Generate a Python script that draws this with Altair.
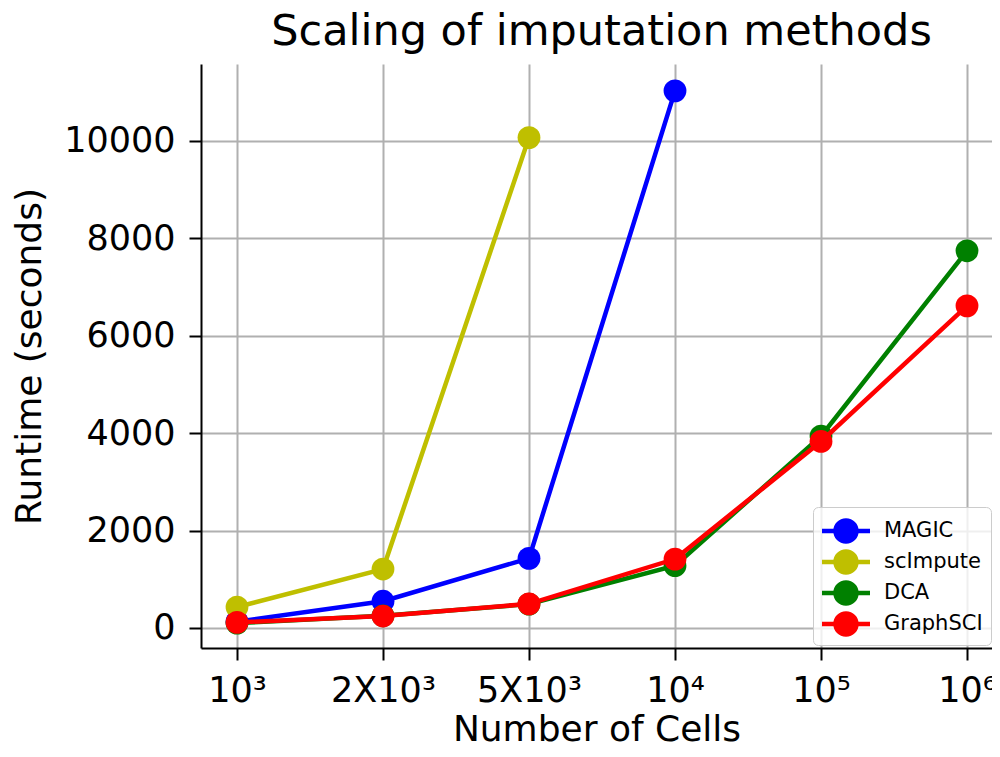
import json
import altair as alt
import pandas as pd

categories = ["10³", "2X10³", "5X10³", "10⁴", "10⁵", "10⁶"]
series_names = ["MAGIC", "scImpute", "DCA", "GraphSCI"]
series_colors = ["#0000ff", "#bfbf00", "#008000", "#ff0000"]
magic = [130, 550, 1430, 11030]
scimpute = [430, 1210, 10070]
dca = [100, 250, 490, 1280, 3940, 7745]
graphsci = [115, 245, 495, 1415, 3830, 6615]
y_ticks = [0, 2000, 4000, 6000, 8000, 10000]

rows = []
for name, vals in zip(series_names, [magic, scimpute, dca, graphsci]):
    for i, (c, v) in enumerate(zip(categories, vals)):
        rows.append({"pos": i, "cells": c, "runtime": v, "method": name})
df = pd.DataFrame(rows)

FONT = "DejaVu Sans"

label_expr = json.dumps(categories, ensure_ascii=False) + "[datum.value]"

x_enc = alt.X(
    "pos:Q",
    scale=alt.Scale(domain=[-0.2466, 5.1712], nice=False, zero=False),
    axis=alt.Axis(title="Number of Cells", labelAngle=0,
                  values=list(range(len(categories))), labelExpr=label_expr),
)
y_enc = alt.Y(
    "runtime:Q",
    scale=alt.Scale(domain=[-411, 11581], nice=False, zero=False),
    axis=alt.Axis(title="Runtime (seconds)", values=y_ticks, format="d"),
)

# symbol unit = sqrt(900)/2 = 15 px; line 48 px wide starting at entry's left edge
legend_path = ("M-1,-0.15L2.2,-0.15L2.2,0.15L-1,0.15Z "
               "M1.45,0A0.85,0.85,0,1,1,-0.25,0A0.85,0.85,0,1,1,1.45,0Z")

color_enc = alt.Color(
    "method:N",
    scale=alt.Scale(domain=series_names, range=series_colors),
    legend=alt.Legend(
        title=None,
        orient="none",
        legendX=612,
        legendY=443,
        symbolType=legend_path,
        symbolSize=900,
        symbolOpacity=1,
        labelFontSize=21,
        labelFont=FONT,
        labelColor="black",
        labelOffset=31,
        padding=8,
        rowPadding=2,
        strokeColor="#cccccc",
        fillColor="rgba(255,255,255,0.8)",
        cornerRadius=5,
    ),
)

layers = []
for name, col in zip(series_names, series_colors):
    sub = df[df["method"] == name]
    line = alt.Chart(sub).mark_line(strokeWidth=4.5, color=col).encode(x=x_enc, y=y_enc)
    pts = alt.Chart(sub).mark_point(filled=True, size=520, opacity=1).encode(
        x=x_enc, y=y_enc, color=color_enc
    )
    layers += [line, pts]

chart = alt.layer(*layers).properties(
    width=791,
    height=584,
    autosize=alt.AutoSizeParams(type="none"),
    padding={"left": 193, "top": 56, "right": 0, "bottom": 94},
    title=alt.Title(
        "Scaling of imputation methods",
        fontSize=43,
        font=FONT,
        fontWeight="normal",
        color="black",
        offset=10,
        dx=5,
    ),
).configure_view(stroke=None).configure_axis(
    labelFont=FONT,
    titleFont=FONT,
    labelFontSize=35,
    titleFontSize=36,
    titleFontWeight="normal",
    labelColor="black",
    titleColor="black",
    domainColor="black",
    domainWidth=2,
    tickColor="black",
    tickWidth=2,
    tickSize=12,
    grid=True,
    gridColor="#b0b0b0",
    gridWidth=2,
).configure_axisX(
    labelPadding=13,
    titlePadding=4,
).configure_axisY(
    labelPadding=14,
    titlePadding=15,
)

chart.save("out.html", embed_options={"renderer": "svg", "actions": False})
